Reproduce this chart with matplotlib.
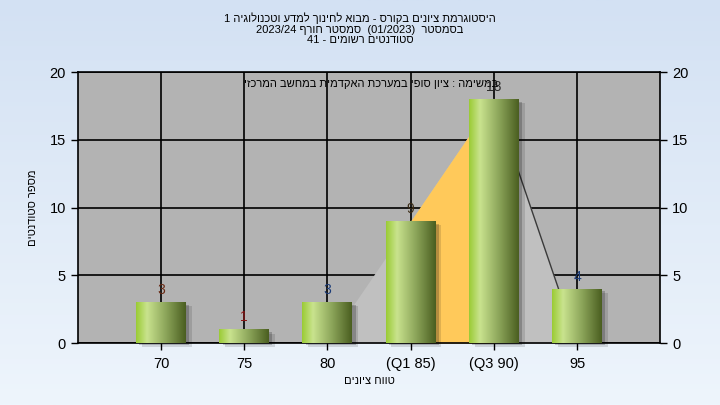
import re
import numpy as np
import matplotlib
matplotlib.use("Agg")
import matplotlib.pyplot as plt
from matplotlib.colors import LinearSegmentedColormap

# ==== DATA ====
grades = ["70", "75", "80", "(Q1 85)", "(Q3 90)", "95"]
counts = [3, 1, 3, 9, 18, 4]
curve = [0, 0, 0, 9, 18, 0]      # distribution area behind the bars
q1_idx, q3_idx = 3, 4

title_lines = [
    "היסטוגרמת ציונים בקורס - מבוא לחינוך למדע וטכנולוגיה 1",
    "בסמסטר  (01/2023)  סמסטר חורף 2023/24",
    "סטודנטים רשומים - 41",
]
note = "במשימה : ציון סופי במערכת האקדמית במחשב המרכזי"
xlabel = "טווח ציונים"
ylabel = "מספר סטודנטים"

plt.rcParams["font.family"] = ["Liberation Sans", "DejaVu Sans"]


def rtl(s):
    # crude visual reordering for a right-to-left line
    out = s[::-1].translate(str.maketrans("()", ")("))
    return re.sub(r"[0-9A-Za-z][0-9A-Za-z/.]*[0-9A-Za-z]|[0-9A-Za-z]",
                  lambda m: m.group(0)[::-1], out)


fig = plt.figure(figsize=(7.2, 4.05), dpi=100)

# background gradient
bg = fig.add_axes([0, 0, 1, 1], zorder=-10)
bg.imshow(np.linspace(0, 1, 256).reshape(-1, 1), aspect="auto",
          cmap=LinearSegmentedColormap.from_list("bg", ["#d3e1f3", "#eef5fc"]),
          extent=[0, 1, 0, 1])
bg.axis("off")

ax = fig.add_axes([0.108, 0.153, 0.809, 0.669])
ax.set_facecolor("#b3b3b3")
x = np.arange(len(grades))

# area behind bars
curve = np.array(curve)
ax.fill_between(x, curve, color="#c0c0c0", lw=0, zorder=1)
ax.fill_between(x, curve, where=(x >= q1_idx) & (x <= q3_idx),
                color="#ffc95a", lw=0, zorder=1.1)
ax.plot(x[q3_idx:], curve[q3_idx:], color="#3a3a3a", lw=1, zorder=1.2)

# shadows
for dx, dy, a in [(0.07, -0.3, 0.12), (0.04, -0.18, 0.2)]:
    ax.bar(x + dx, counts, width=0.6, bottom=dy, color="black", alpha=a,
           lw=0, zorder=2, clip_on=False)

# gradient bars
cmap = LinearSegmentedColormap.from_list(
    "bar", [(0, "#9acb34"), (0.22, "#c9e38e"), (0.6, "#8ca55a"), (1, "#4a5e20")])
grad = np.linspace(0, 1, 256).reshape(1, -1)
bars = ax.bar(x, counts, width=0.6, color="none", lw=0, zorder=3)
for b in bars:
    im = ax.imshow(grad, aspect="auto", cmap=cmap, zorder=3,
                   extent=[b.get_x(), b.get_x() + b.get_width(), 0, b.get_height()])
    im.set_clip_path(b)

label_colors = ["#6a2a14", "#8b1414", "#1c3c78", "#3a2a14", "#2a2a2a", "#1c3c78"]
for xi, c, col in zip(x, counts, label_colors):
    ax.text(xi, c + 0.9, str(c), ha="center", va="center", fontsize=10,
            color=col, zorder=5)

ax.set_xlim(-1, len(grades))
ax.set_ylim(0, 20)
ax.set_xticks(x)
ax.set_xticklabels(grades, fontsize=10)
ax.set_yticks([0, 5, 10, 15, 20])
ax.grid(True, color="black", lw=1.2)
ax.set_axisbelow(True)
ax.tick_params(axis="both", length=5, width=1, labelsize=10.5)
ax.tick_params(axis="x", pad=5)
ax.tick_params(axis="y", right=True, labelright=True)
for s in ax.spines.values():
    s.set_color("black")
    s.set_linewidth(1.2)

ax.set_xlabel(rtl(xlabel), fontsize=8, labelpad=4)
ax.set_ylabel(rtl(ylabel), fontsize=8, labelpad=8)
ax.text(0.503, 0.956, rtl(note), transform=ax.transAxes, ha="center",
        va="center", fontsize=8, zorder=4)

fig.text(0.5, 0.97, "\n".join(rtl(t) for t in title_lines), ha="center",
         va="top", fontsize=8, linespacing=1.1)

fig.savefig("out.png", dpi=100)
